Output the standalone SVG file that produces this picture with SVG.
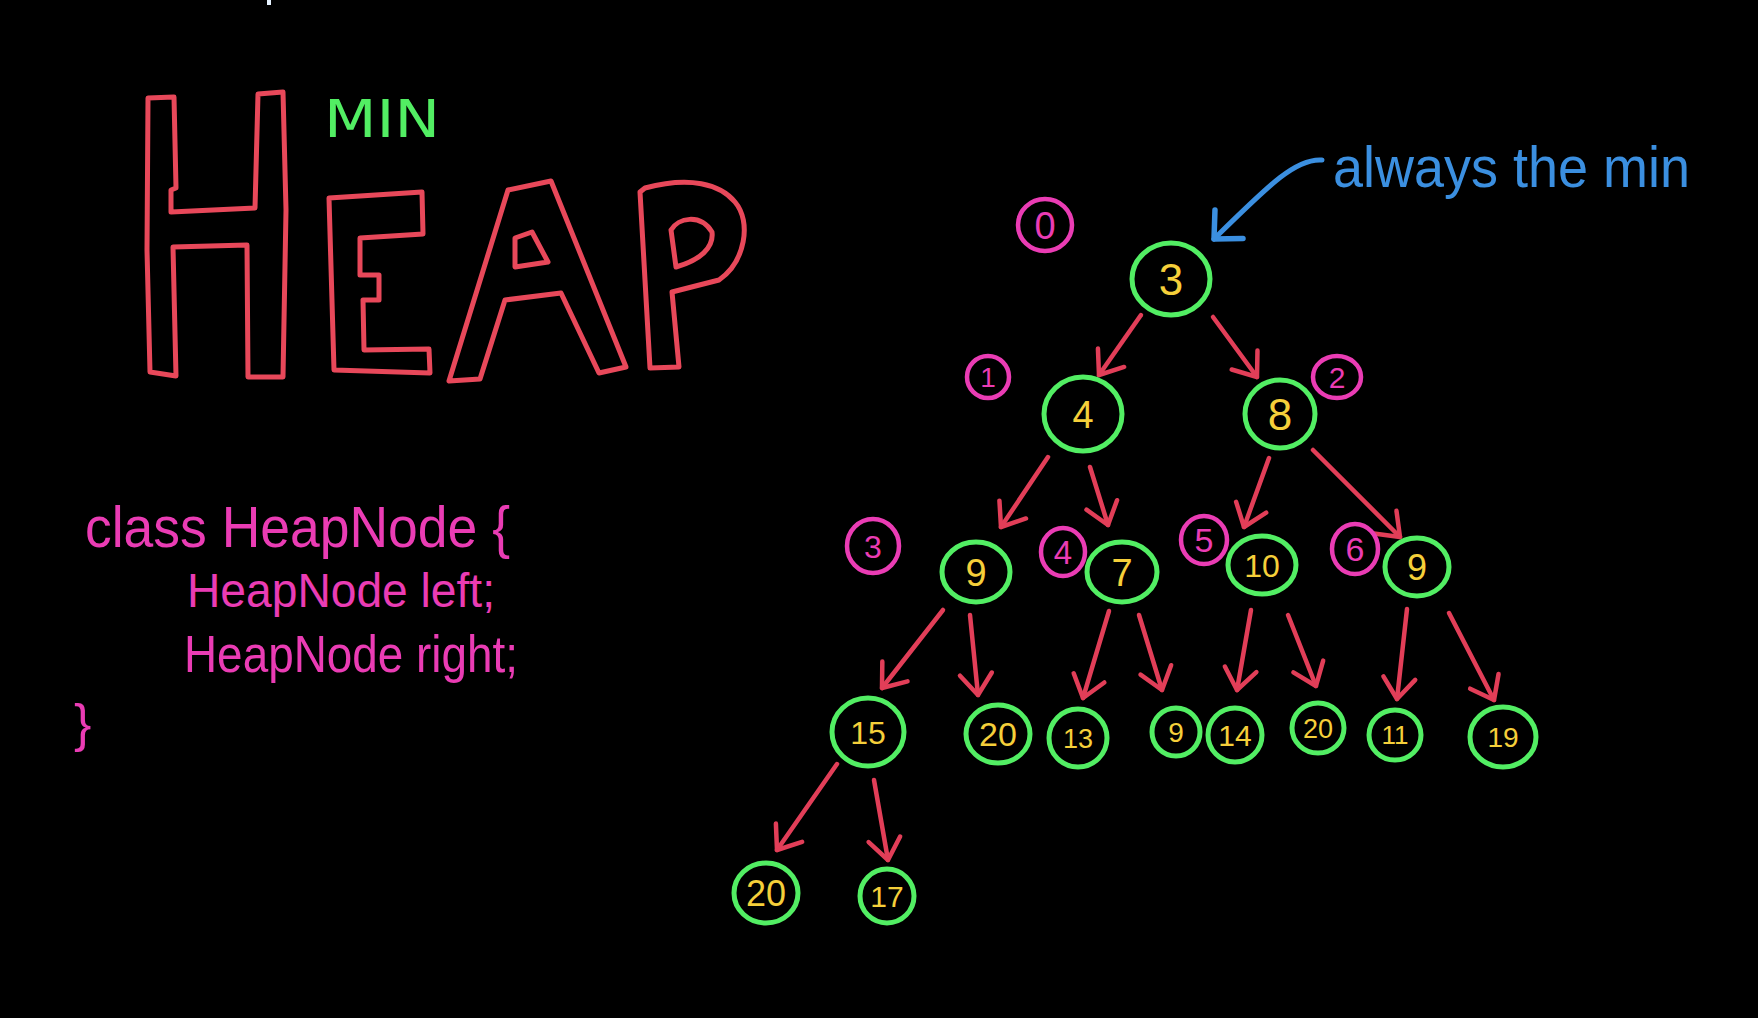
<svg xmlns="http://www.w3.org/2000/svg" width="1758" height="1018" viewBox="0 0 1758 1018">
<style>
.bg{fill:#000}
.heap{fill:none;stroke:#e8485a;stroke-width:5;stroke-linejoin:round;stroke-linecap:round}
.node{fill:none;stroke:#52ee63;stroke-width:5}
.num{fill:#f5cf3a;font-family:"Liberation Sans",Arial,sans-serif;text-anchor:middle}
.idx{fill:none;stroke:#ea3cb4;stroke-width:4.5}
.idxt{fill:#ea3cb4;font-family:"Liberation Sans",Arial,sans-serif;text-anchor:middle}
.code{fill:#ea3cb4;font-family:"Liberation Sans",Arial,sans-serif}
.edge{fill:none;stroke:#e23e58;stroke-width:4.5;stroke-linecap:round;marker-end:url(#ah)}
.blue{fill:none;stroke:#3b8fe0;stroke-width:5;stroke-linecap:round;marker-end:url(#bh)}
</style>
<defs>
<marker id="ah" markerUnits="userSpaceOnUse" orient="auto" refX="0" refY="0" markerWidth="60" markerHeight="60" overflow="visible">
<path d="M -21 -16 L 0 0 L -21 16" fill="none" stroke="#e23e58" stroke-width="4.5" stroke-linecap="round" stroke-linejoin="round"/>
</marker>
<marker id="bh" markerUnits="userSpaceOnUse" orient="auto" refX="0" refY="0" markerWidth="60" markerHeight="60" overflow="visible">
<path d="M -21 -20 L 0 0 L -21 20" fill="none" stroke="#3b8fe0" stroke-width="5.5" stroke-linecap="round" stroke-linejoin="round"/>
</marker>
</defs>
<rect class="bg" x="0" y="0" width="1758" height="1018"/>
<rect x="267" y="0" width="4" height="5" fill="#e6f2ff"/>

<g id="title">
<path class="heap" d="M 148 98 L 174 97 L 176 188 L 171 190 L 171 212 L 255 208 L 258 94 L 283 92 L 286 210 L 283 377 L 248 377 L 247 245 L 173 247 L 176 376 L 150 372 L 147 250 Z"/>
<path class="heap" d="M 329 198 L 422 192 L 423 234 L 360 238 L 360 275 L 379 275 L 379 300 L 363 300 L 364 350 L 429 349 L 430 373 L 334 370 Z"/>
<path class="heap" d="M 449 381 L 480 379 L 505 300 L 561 293 L 599 373 L 626 367 L 551 181 L 508 190 Z"/>
<path class="heap" d="M 515 238 L 532 232 L 548 262 L 515 267 Z"/>
<path class="heap" d="M 640 192 L 650 368 L 679 367 L 672 292 L 719 280 C 745 262 752 222 735 202 C 720 184 690 176 645 188 Z"/>
<path class="heap" d="M 671 230 C 678 218 700 213 712 232 C 714 248 700 260 676 267 Z"/>
<text x="324" y="137" font-family="'DejaVu Sans',sans-serif" font-size="52" fill="#52ee63" textLength="116" lengthAdjust="spacingAndGlyphs">MIN</text>
</g>

<g id="code">
<text class="code" x="85" y="547" font-size="58" textLength="425" lengthAdjust="spacingAndGlyphs">class HeapNode {</text>
<text class="code" x="187" y="607" font-size="48" textLength="308" lengthAdjust="spacingAndGlyphs">HeapNode left;</text>
<text class="code" x="184" y="672" font-size="52" textLength="334" lengthAdjust="spacingAndGlyphs">HeapNode right;</text>
<text class="code" x="74" y="741" font-size="52">}</text>
</g>

<g id="note">
<text x="1333" y="187" font-family="'Liberation Sans',Arial,sans-serif" font-size="58" fill="#3b8fe0" textLength="357" lengthAdjust="spacingAndGlyphs">always the min</text>
<path class="blue" d="M 1322 160 C 1296 158 1270 184 1214 239"/>
</g>

<g id="edges">
<line class="edge" x1="1141" y1="315" x2="1099" y2="375"/>
<line class="edge" x1="1213" y1="317" x2="1257" y2="377"/>
<line class="edge" x1="1048" y1="457" x2="1001" y2="527"/>
<line class="edge" x1="1090" y1="467" x2="1108" y2="525"/>
<line class="edge" x1="1269" y1="458" x2="1244" y2="527"/>
<line class="edge" x1="1313" y1="450" x2="1400" y2="537"/>
<line class="edge" x1="943" y1="610" x2="882" y2="688"/>
<line class="edge" x1="970" y1="615" x2="978" y2="695"/>
<line class="edge" x1="1109" y1="611" x2="1083" y2="698"/>
<line class="edge" x1="1139" y1="615" x2="1162" y2="690"/>
<line class="edge" x1="1251" y1="610" x2="1237" y2="690"/>
<line class="edge" x1="1288" y1="615" x2="1316" y2="686"/>
<line class="edge" x1="1407" y1="609" x2="1397" y2="699"/>
<line class="edge" x1="1449" y1="613" x2="1494" y2="700"/>
<line class="edge" x1="837" y1="764" x2="777" y2="850"/>
<line class="edge" x1="874" y1="780" x2="888" y2="860"/>
</g>

<g id="idx0"><ellipse class="idx" cx="1045" cy="225" rx="27" ry="26"/><text class="idxt" x="1045" y="239" font-size="38">0</text></g>
<g id="idx1"><ellipse class="idx" cx="988" cy="377" rx="21" ry="21"/><text class="idxt" x="988" y="387" font-size="28">1</text></g>
<g id="idx2"><ellipse class="idx" cx="1337" cy="377" rx="24" ry="21"/><text class="idxt" x="1337" y="388" font-size="30">2</text></g>
<g id="idx3"><ellipse class="idx" cx="873" cy="546" rx="26" ry="27"/><text class="idxt" x="873" y="558" font-size="32">3</text></g>
<g id="idx4"><ellipse class="idx" cx="1063" cy="552" rx="22" ry="24"/><text class="idxt" x="1063" y="564" font-size="33">4</text></g>
<g id="idx5"><ellipse class="idx" cx="1204" cy="540" rx="23" ry="24"/><text class="idxt" x="1204" y="552" font-size="34">5</text></g>
<g id="idx6"><ellipse class="idx" cx="1355" cy="549" rx="23" ry="25"/><text class="idxt" x="1355" y="561" font-size="34">6</text></g>

<g id="n0"><ellipse class="node" cx="1171" cy="279" rx="39" ry="36"/><text class="num" x="1171" y="295" font-size="44">3</text></g>
<g id="n1"><ellipse class="node" cx="1083" cy="414" rx="39" ry="37"/><text class="num" x="1083" y="428" font-size="38">4</text></g>
<g id="n2"><ellipse class="node" cx="1280" cy="414" rx="35" ry="34"/><text class="num" x="1280" y="430" font-size="44">8</text></g>
<g id="n3"><ellipse class="node" cx="976" cy="572" rx="34" ry="30"/><text class="num" x="976" y="586" font-size="38">9</text></g>
<g id="n4"><ellipse class="node" cx="1122" cy="572" rx="35" ry="30"/><text class="num" x="1122" y="586" font-size="38">7</text></g>
<g id="n5"><ellipse class="node" cx="1262" cy="565" rx="34" ry="29"/><text class="num" x="1262" y="577" font-size="32">10</text></g>
<g id="n6"><ellipse class="node" cx="1417" cy="567" rx="32" ry="29"/><text class="num" x="1417" y="580" font-size="36">9</text></g>
<g id="n7"><ellipse class="node" cx="868" cy="732" rx="36" ry="34"/><text class="num" x="868" y="744" font-size="32">15</text></g>
<g id="n8"><ellipse class="node" cx="998" cy="734" rx="32" ry="29"/><text class="num" x="998" y="746" font-size="34">20</text></g>
<g id="n9"><ellipse class="node" cx="1078" cy="738" rx="29" ry="29"/><text class="num" x="1078" y="748" font-size="27">13</text></g>
<g id="n10"><ellipse class="node" cx="1176" cy="732" rx="24" ry="24"/><text class="num" x="1176" y="742" font-size="28">9</text></g>
<g id="n11"><ellipse class="node" cx="1235" cy="735" rx="27" ry="27"/><text class="num" x="1235" y="746" font-size="30">14</text></g>
<g id="n12"><ellipse class="node" cx="1318" cy="728" rx="26" ry="25"/><text class="num" x="1318" y="738" font-size="27">20</text></g>
<g id="n13"><ellipse class="node" cx="1395" cy="735" rx="26" ry="25"/><text class="num" x="1395" y="744" font-size="26">11</text></g>
<g id="n14"><ellipse class="node" cx="1503" cy="737" rx="33" ry="30"/><text class="num" x="1503" y="747" font-size="28">19</text></g>
<g id="n15"><ellipse class="node" cx="766" cy="893" rx="32" ry="30"/><text class="num" x="766" y="906" font-size="36">20</text></g>
<g id="n16"><ellipse class="node" cx="887" cy="896" rx="27" ry="27"/><text class="num" x="887" y="907" font-size="30">17</text></g>
</svg>
